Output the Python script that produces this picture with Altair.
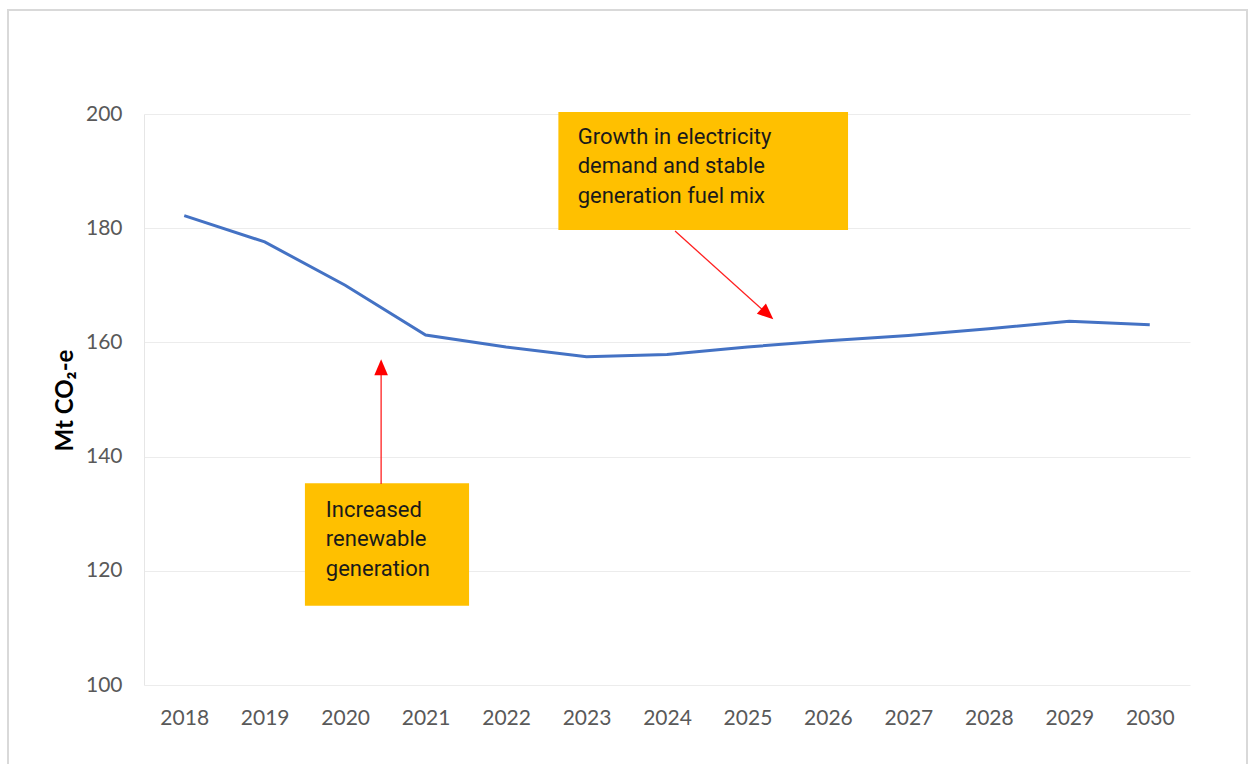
import altair as alt
import pandas as pd

years = [2018, 2019, 2020, 2021, 2022, 2023, 2024, 2025, 2026, 2027, 2028, 2029, 2030]
emissions = [182.2, 177.6, 170.0, 161.3, 159.2, 157.5, 157.9, 159.2, 160.3, 161.2, 162.4, 163.7, 163.1]
y_ticks = [100, 120, 140, 160, 180, 200]

box_labels = ["growth", "renewable"]
box_x = [2022.65, 2019.50]
box_x2 = [2026.25, 2021.54]
box_y = [200.35, 135.33]
box_y2 = [179.7, 113.9]
box_text_x = [2022.89, 2019.76]
box_text_y = [194.75, 129.47]
box_texts = [
    ["Growth in electricity", "demand and stable", "generation fuel mix"],
    ["Increased", "renewable", "generation"],
]

arrow_x = [2024.10, 2020.447]
arrow_y = [179.5, 135.2]
arrow_x2 = [2025.22, 2020.447]
arrow_y2 = [165.3, 156.2]
head_x = [2025.247, 2020.447]
head_y = [164.98, 155.64]
head_angle = [131.9, 0]

W, H = 1046, 571
FONT = "Lato"
BOX_FONT = "Roboto"

line_df = pd.DataFrame({"year": years, "value": emissions})
box_df = pd.DataFrame({"label": box_labels, "x": box_x, "x2": box_x2, "y": box_y, "y2": box_y2,
                       "tx": box_text_x, "ty": box_text_y, "text": box_texts})
arrow_df = pd.DataFrame({"x": arrow_x, "y": arrow_y, "x2": arrow_x2, "y2": arrow_y2,
                         "hx": head_x, "hy": head_y, "angle": head_angle})

xscale = alt.Scale(domain=[2017.5, 2030.5], nice=False, zero=False)
yscale = alt.Scale(domain=[100, 200], nice=False, zero=False)

frame = alt.Chart(line_df).mark_rect(
    fill="transparent", stroke="#d9d9d9", strokeWidth=1.5, clip=False
).encode(
    x=alt.value(8 - 144), x2=alt.value(1247 - 144),
    y=alt.value(10 - 114), y2=alt.value(780 - 114),
)

line = alt.Chart(line_df).mark_line(color="#4472C4", strokeWidth=3).encode(
    x=alt.X("year:Q", scale=xscale,
            axis=alt.Axis(values=years, format="d", title=None, grid=False, domain=False,
                          ticks=False, labelPadding=22, labelFont=FONT, labelFontSize=21,
                          labelColor="#595959")),
    y=alt.Y("value:Q", scale=yscale,
            axis=alt.Axis(values=y_ticks, title="Mt CO₂-e", grid=True, gridColor="#ececec",
                          gridWidth=1, domain=True, domainColor="#e6e6e6", ticks=False,
                          labelPadding=22, labelFont=FONT, labelFontSize=21, labelColor="#595959",
                          titleFont=FONT, titleFontSize=24, titleFontWeight="bold",
                          titleColor="black", titleAngle=270, titleX=-72, titleY=286,
                          titleBaseline="alphabetic", titleAlign="center")),
)

boxes = alt.Chart(box_df).mark_rect(color="#FFC000").encode(
    x=alt.X("x:Q", scale=xscale), x2="x2:Q",
    y=alt.Y("y:Q", scale=yscale), y2="y2:Q",
)

box_text = alt.Chart(box_df).mark_text(
    align="left", baseline="alphabetic", font=BOX_FONT, fontSize=22, lineHeight=29.5, color="#1a1a1a"
).encode(
    x=alt.X("tx:Q", scale=xscale), y=alt.Y("ty:Q", scale=yscale), text="text"
)

arrows = alt.Chart(arrow_df).mark_rule(color="#ff2020", strokeWidth=1.3).encode(
    x=alt.X("x:Q", scale=xscale), y=alt.Y("y:Q", scale=yscale),
    x2="x2:Q", y2="y2:Q",
)

heads = alt.Chart(arrow_df).mark_point(
    shape="M0,-1L0.85,1L-0.85,1Z", filled=True, color="#ff0000", opacity=1, size=256
).encode(
    x=alt.X("hx:Q", scale=xscale), y=alt.Y("hy:Q", scale=yscale),
    angle=alt.Angle("angle:Q", scale=None),
)

chart = alt.layer(frame, line, boxes, box_text, arrows, heads).properties(
    width=W, height=H,
    autosize=alt.AutoSizeParams(type="none"),
    padding={"left": 144, "top": 114, "right": 1252 - 144 - W, "bottom": 764 - 114 - H},
    background="white",
).configure_view(stroke=None)

chart.save("out.html", embed_options={"renderer": "svg", "actions": False})
